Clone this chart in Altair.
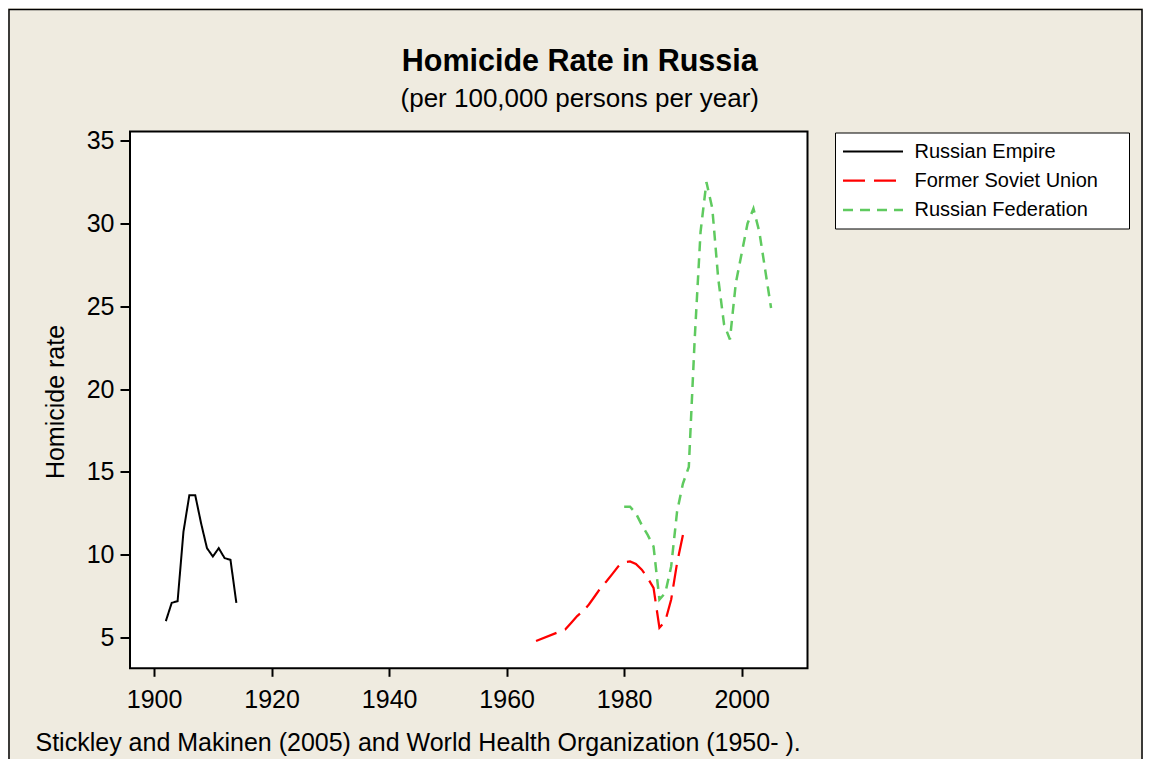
import altair as alt
import pandas as pd

# ---- data ----
series_names = ["Russian Empire", "Former Soviet Union", "Russian Federation"]
series_colors = ["#000000", "#FF0000", "#5FCA5F"]
series_dashes = [[1, 0], [22, 9], [10, 7]]
series_widths = [2, 2.5, 2.5]

empire_years = list(range(1902, 1915))
empire_rates = [6.0, 7.1, 7.2, 11.4, 13.6, 13.6, 11.9, 10.4, 9.9, 10.4, 9.8, 9.7, 7.1]

soviet_years = [1965, 1970] + list(range(1971, 1991))
soviet_rates = [4.8, 5.5,
                5.9, 6.3, 6.6, 7.0, 7.5, 8.0, 8.4, 8.85, 9.3, 9.55,
                9.6, 9.45, 9.1, 8.6, 8.0,
                5.6, 6.0, 7.3, 9.5, 11.2]

federation_years = list(range(1980, 2006))
federation_rates = [12.9, 12.9, 12.5, 11.8, 11.2, 10.5,
                    7.3, 7.7, 9.3, 12.6, 14.3,
                    15.3, 23.0, 29.5, 32.5, 30.9,
                    26.7, 23.9, 23.0, 26.4, 28.2,
                    30.0, 30.9, 29.5, 27.2, 24.9]

x_ticks = [1900, 1920, 1940, 1960, 1980, 2000]
y_ticks = [5, 10, 15, 20, 25, 30, 35]

title_text = "Homicide Rate in Russia"
subtitle_text = "(per 100,000 persons per year)"
y_title = "Homicide rate"
footer_text = "Stickley and Makinen (2005) and World Health Organization (1950- )."

rows = []
for name, yrs, vals in [(series_names[0], empire_years, empire_rates),
                        (series_names[1], soviet_years, soviet_rates),
                        (series_names[2], federation_years, federation_rates)]:
    for yr, v in zip(yrs, vals):
        rows.append({"series": name, "year": yr, "rate": v})
df = pd.DataFrame(rows)

FONT = "Liberation Sans"
PAD = "\u00a0" * 4 + "\u200b"

legend = alt.Legend(
    title=None, orient="none", legendX=705, legendY=1, direction="vertical",
    fillColor="white", strokeColor="black", padding=8, rowPadding=7.5,
    symbolType="M-3,0H3", symbolSize=400, symbolStrokeWidth=2,
    symbolOffset=18.5, labelOffset=30, labelFontSize=20, labelFont=FONT,
    labelColor="black", labelLimit=400, labelExpr="datum.label + '" + PAD + "'",
)

x_scale = alt.Scale(domain=[1895.9, 2011.2], nice=False, zero=False)
y_scale = alt.Scale(domain=[3.15, 35.55], nice=False, zero=False)

lines = alt.Chart(df).mark_line().encode(
    x=alt.X("year:Q", scale=x_scale,
            axis=alt.Axis(values=x_ticks, format="d", title=footer_text,
                          titleX=-95, titleY=82, titleAlign="left",
                          titleBaseline="alphabetic", titleFontSize=25,
                          titleFontWeight="normal", titleFont=FONT, titleColor="black",
                          labelFontSize=25, labelFont=FONT, labelColor="black",
                          tickSize=8, tickWidth=2, tickColor="black",
                          labelPadding=11, domain=False, grid=False)),
    y=alt.Y("rate:Q", scale=y_scale,
            axis=alt.Axis(values=y_ticks, format="d", title=y_title,
                          titleX=-67, titleY=270, titleAngle=270, titleAlign="center",
                          titleBaseline="alphabetic", titleFontSize=25,
                          titleFontWeight="normal", titleFont=FONT, titleColor="black",
                          labelFontSize=25, labelFont=FONT, labelColor="black",
                          tickSize=10, tickWidth=2, tickColor="black",
                          labelPadding=6, domain=False, grid=False)),
    color=alt.Color("series:N", scale=alt.Scale(domain=series_names, range=series_colors),
                    legend=legend),
    strokeDash=alt.StrokeDash("series:N",
                              scale=alt.Scale(domain=series_names, range=series_dashes),
                              legend=legend),
    strokeWidth=alt.StrokeWidth("series:N",
                                scale=alt.Scale(domain=series_names, range=series_widths),
                                legend=None),
)

border = alt.Chart(alt.Data(values=[{"frame": 1}])).mark_rect(
    filled=False, stroke="black", strokeWidth=1.5
).encode(x=alt.value(-121), x2=alt.value(1012), y=alt.value(-122), y2=alt.value(640))

chart = alt.layer(lines, border).properties(
    width=677.5, height=536.8,
    autosize=alt.AutoSizeParams(type="none"),
    padding={"left": 122, "top": 123.5, "right": 335.5, "bottom": 90.7},
    background="#EFEBE0",
    title=alt.TitleParams(
        text=title_text, subtitle=subtitle_text,
        font=FONT, fontSize=30.5, fontWeight="bold", color="black",
        subtitleFont=FONT, subtitleFontSize=26, subtitleColor="black",
        subtitleFontWeight="normal", anchor="middle", frame="group",
        dx=111, dy=122.75, offset=20, subtitlePadding=8,
    ),
).configure_view(fill="white", stroke="black", strokeWidth=2)

chart.save("out.html", embed_options={"renderer": "svg", "actions": False})
